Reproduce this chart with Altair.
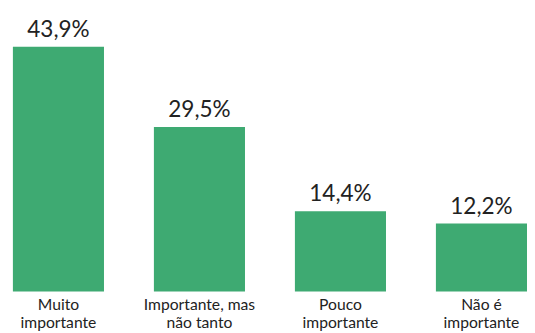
import altair as alt
import pandas as pd

categories = ["Muito\nimportante", "Importante, mas\nnão tanto", "Pouco\nimportante", "Não é\nimportante"]
values = [43.9, 29.5, 14.4, 12.2]

df = pd.DataFrame({"cat": categories, "v": values})

FONT = "Lato"
GREEN = "#3eaa72"

x = alt.X("cat:N", sort=categories, title=None,
          scale=alt.Scale(paddingInner=0.354, paddingOuter=0),
          axis=alt.Axis(domain=False, ticks=False, labelAngle=0, labelFont=FONT,
                        labelFontSize=16, labelColor="#222222", labelPadding=5,
                        labelLineHeight=19, labelExpr="split(datum.label, '\\n')"))
y = alt.Y("v:Q", title=None, scale=alt.Scale(domain=[0, 43.9], nice=False), axis=None)

bars = alt.Chart(df).mark_bar(color=GREEN).encode(x=x, y=y)
text = alt.Chart(df).mark_text(dy=-10, baseline="alphabetic", font=FONT, fontSize=23,
                              color="#222222").encode(
    x=alt.X("cat:N", sort=categories), y="v:Q",
    text=alt.Text("lbl:N")).transform_calculate(
    lbl="replace(format(datum.v, '.1f'), '.', ',') + '%'")

chart = (bars + text).properties(
    width=525, height=250,
    autosize=alt.AutoSizeParams(type="none"),
    padding={"left": 5, "top": 36, "right": 0, "bottom": 39},
).configure_view(stroke=None)

chart.save("out.html", embed_options={"renderer": "svg", "actions": False})
